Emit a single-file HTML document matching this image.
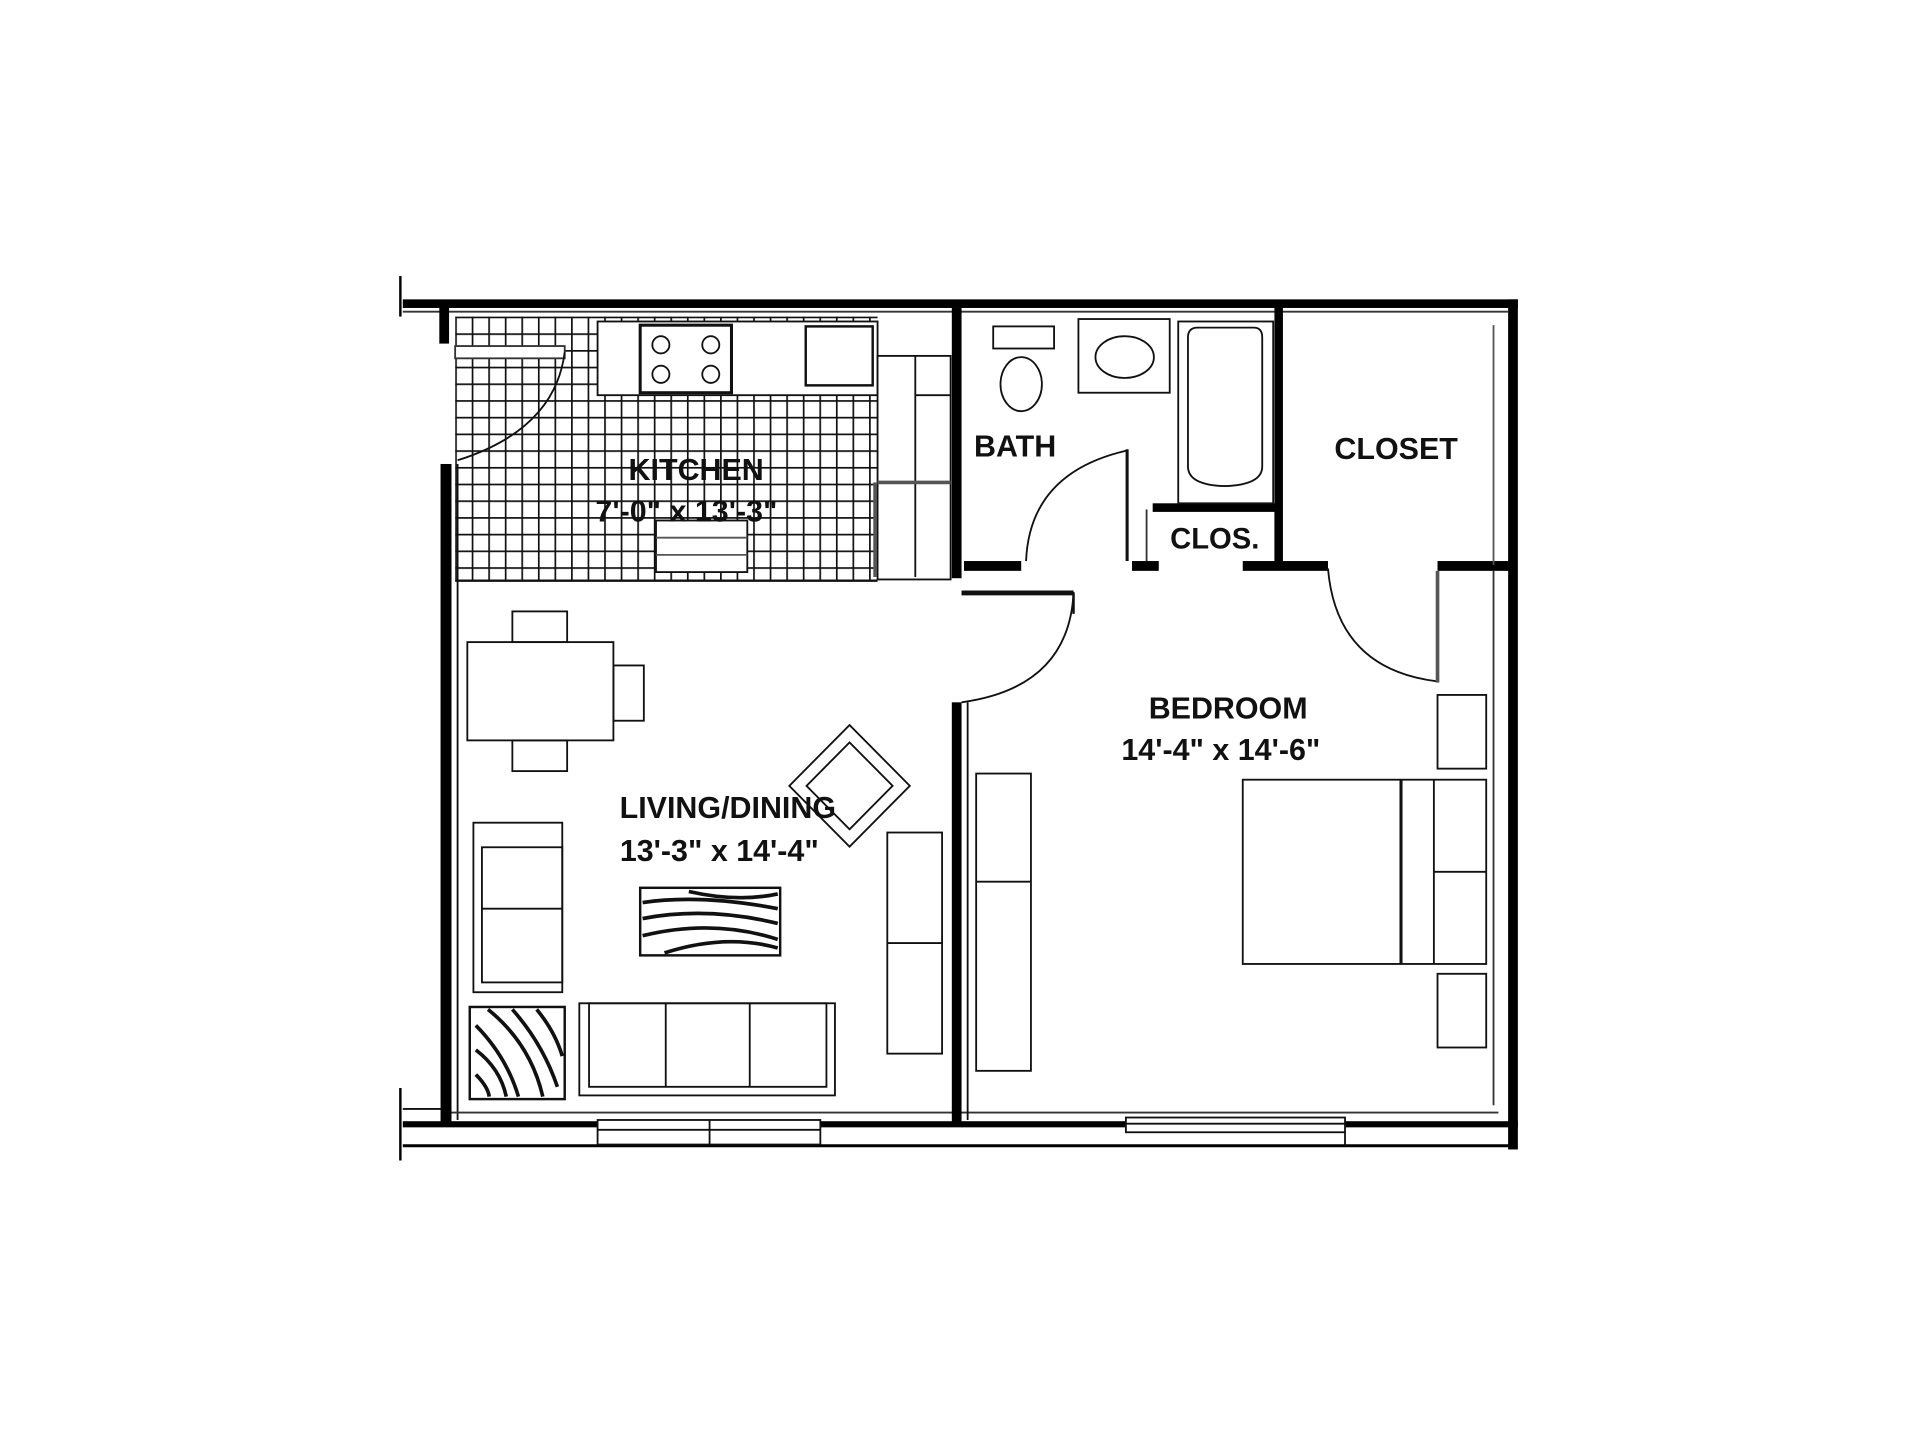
<!DOCTYPE html>
<html><head><meta charset="utf-8"><style>html,body{margin:0;padding:0;background:#fff}svg{display:block}</style></head>
<body>
<svg width="1920" height="1440" viewBox="0 0 1552 1164" xmlns="http://www.w3.org/2000/svg" font-family="Liberation Sans, sans-serif" font-weight="bold">
<defs>
<pattern id="g" x="368" y="258" width="13.6" height="13.6" patternUnits="userSpaceOnUse">
<path d="M0 0V13.6M0 0H13.6" stroke="#111" stroke-width="2.8" fill="none"/>
</pattern>
</defs>
<rect width="1552" height="1164" fill="#fff"/>
<g transform="matrix(0.984 0 0 0.993 5.8 -0.3)">
<!-- kitchen grid -->
<rect x="368" y="258" width="347" height="215" fill="url(#g)"/>
<line x1="368" y1="473" x2="715" y2="473" stroke="#111" stroke-width="2"/>
<!-- counters -->
<rect x="485" y="262" width="230" height="60" fill="#fff" stroke="#111" stroke-width="1.5"/>
<rect x="520" y="265" width="75" height="55" fill="#fff" stroke="#111" stroke-width="2.5"/>
<circle cx="537" cy="281" r="7" fill="none" stroke="#111" stroke-width="1.5"/>
<circle cx="578" cy="281" r="7" fill="none" stroke="#111" stroke-width="1.5"/>
<circle cx="537" cy="305" r="7" fill="none" stroke="#111" stroke-width="1.5"/>
<circle cx="578" cy="305" r="7" fill="none" stroke="#111" stroke-width="1.5"/>
<rect x="656" y="266" width="55" height="48" fill="#fff" stroke="#111" stroke-width="2"/>
<rect x="715" y="290" width="60" height="182" fill="#fff" stroke="#111" stroke-width="1.5"/>
<line x1="746" y1="290" x2="746" y2="470" stroke="#111" stroke-width="1.5"/>
<line x1="746" y1="322" x2="775" y2="322" stroke="#111" stroke-width="1.5"/>
<line x1="715" y1="393" x2="775" y2="393" stroke="#555" stroke-width="3"/>
<line x1="713" y1="393" x2="713" y2="470" stroke="#555" stroke-width="3"/>
<rect x="533" y="424" width="75" height="42" fill="#fff" stroke="#111" stroke-width="1.5"/>
<line x1="533" y1="438" x2="608" y2="438" stroke="#555" stroke-width="1.5"/>
<line x1="533" y1="452" x2="608" y2="452" stroke="#555" stroke-width="1.5"/>
<!-- kitchen door -->
<rect x="368" y="282" width="90" height="10" fill="#fff" stroke="#333" stroke-width="1.5"/>
<path d="M458 287 Q450 350 370 375" fill="none" stroke="#111" stroke-width="1.5"/>
<!-- outer walls -->
<rect x="325" y="244" width="916" height="7" fill="#000"/>
<rect x="1233" y="244" width="8" height="692" fill="#000"/>
<line x1="325" y1="254" x2="1233" y2="254" stroke="#333" stroke-width="1.5"/>
<rect x="355" y="250" width="8" height="30" fill="#000"/>
<rect x="356" y="378" width="9" height="538" fill="#000"/>
<line x1="370" y1="378" x2="370" y2="912" stroke="#111" stroke-width="1.5"/>
<line x1="323" y1="225" x2="323" y2="258" stroke="#000" stroke-width="2"/>
<line x1="323" y1="886" x2="323" y2="945" stroke="#000" stroke-width="2"/>
<line x1="325" y1="903" x2="356" y2="903" stroke="#111" stroke-width="1.5"/>
<rect x="325" y="913" width="916" height="5" fill="#000"/>
<line x1="325" y1="933" x2="1240" y2="933" stroke="#000" stroke-width="2.5"/>
<line x1="365" y1="906" x2="1225" y2="906" stroke="#333" stroke-width="1.5"/>
<!-- windows -->
<rect x="485" y="912" width="183" height="20" fill="#fff" stroke="#111" stroke-width="1.5"/>
<line x1="485" y1="920" x2="668" y2="920" stroke="#111" stroke-width="1.5"/>
<line x1="577" y1="912" x2="577" y2="932" stroke="#111" stroke-width="1.5"/>
<rect x="919" y="910" width="180" height="12" fill="#fff" stroke="#111" stroke-width="1.5"/>
<line x1="919" y1="915" x2="1099" y2="915" stroke="#111" stroke-width="1.5"/>
<line x1="1099" y1="922" x2="1099" y2="933" stroke="#111" stroke-width="1.5"/>
<!-- interior walls -->
<rect x="776" y="251" width="8" height="220" fill="#000"/>
<rect x="776" y="572" width="8" height="343" fill="#000"/>
<line x1="789" y1="572" x2="789" y2="912" stroke="#111" stroke-width="1.5"/>
<rect x="786" y="457" width="47" height="8" fill="#000"/>
<path d="M784 483 H876 Q872 560 784 572" fill="none" stroke="#111" stroke-width="1.5"/>
<line x1="784" y1="483" x2="876" y2="483" stroke="#111" stroke-width="4"/>
<line x1="876" y1="483" x2="876" y2="500" stroke="#111" stroke-width="2"/>
<!-- bath door -->
<path d="M837 457 Q840 385 920 367" fill="none" stroke="#111" stroke-width="1.5"/>
<line x1="920" y1="366" x2="920" y2="457" stroke="#111" stroke-width="2.5"/>
<rect x="924" y="457" width="22" height="8" fill="#000"/>
<line x1="936" y1="415" x2="936" y2="457" stroke="#333" stroke-width="1.5"/>
<rect x="941" y="410" width="103" height="7" fill="#000"/>
<rect x="1041" y="251" width="7" height="212" fill="#000"/>
<rect x="1015" y="457" width="70" height="8" fill="#000"/>
<rect x="1175" y="457" width="60" height="8" fill="#000"/>
<line x1="1221" y1="265" x2="1221" y2="460" stroke="#555" stroke-width="1.5"/>
<!-- bath fixtures -->
<rect x="810" y="266" width="50" height="18" fill="#fff" stroke="#111" stroke-width="1.5"/>
<ellipse cx="833" cy="313" rx="17" ry="22" fill="none" stroke="#111" stroke-width="1.5"/>
<rect x="880" y="260" width="75" height="60" fill="none" stroke="#111" stroke-width="1.5"/>
<ellipse cx="918" cy="291" rx="24" ry="17" fill="none" stroke="#111" stroke-width="1.5"/>
<rect x="962" y="262" width="78" height="148" fill="none" stroke="#111" stroke-width="1.5"/>
<path d="M970 275 Q970 267 978 267 H1024 Q1031 267 1031 275 V380 Q1031 395 1000 396 Q970 395 970 380 Z" fill="none" stroke="#111" stroke-width="1.5"/>
<!-- closet door -->
<path d="M1085 463 Q1092 545 1175 555" fill="none" stroke="#111" stroke-width="1.5"/>
<line x1="1175" y1="465" x2="1175" y2="556" stroke="#555" stroke-width="3"/>
<line x1="1221" y1="465" x2="1221" y2="900" stroke="#333" stroke-width="1.5"/>
<!-- bedroom furniture -->
<rect x="1175" y="566" width="40" height="60" fill="none" stroke="#111" stroke-width="1.5"/>
<rect x="1015" y="635" width="200" height="150" fill="none" stroke="#111" stroke-width="1.5"/>
<line x1="1145" y1="635" x2="1145" y2="785" stroke="#111" stroke-width="2.5"/>
<line x1="1172" y1="635" x2="1172" y2="785" stroke="#111" stroke-width="1.5"/>
<line x1="1172" y1="710" x2="1215" y2="710" stroke="#111" stroke-width="1.5"/>
<rect x="1175" y="793" width="40" height="60" fill="none" stroke="#111" stroke-width="1.5"/>
<rect x="796" y="630" width="45" height="242" fill="none" stroke="#111" stroke-width="1.5"/>
<line x1="796" y1="718" x2="841" y2="718" stroke="#111" stroke-width="1.5"/>
<!-- living furniture -->
<rect x="378" y="523" width="120" height="80" fill="none" stroke="#111" stroke-width="1.5"/>
<rect x="415" y="498" width="45" height="25" fill="none" stroke="#111" stroke-width="1.5"/>
<rect x="415" y="603" width="45" height="25" fill="none" stroke="#111" stroke-width="1.5"/>
<rect x="498" y="542" width="25" height="45" fill="none" stroke="#111" stroke-width="1.5"/>
<g transform="rotate(45 692 640)">
<rect x="657" y="605" width="70" height="70" fill="none" stroke="#111" stroke-width="1.5"/>
<rect x="667" y="615" width="50" height="50" fill="none" stroke="#111" stroke-width="1.5"/>
</g>
<rect x="383" y="670" width="73" height="138" fill="none" stroke="#111" stroke-width="1.5"/>
<rect x="390" y="690" width="66" height="110" fill="none" stroke="#111" stroke-width="1.5"/>
<line x1="390" y1="740" x2="456" y2="740" stroke="#111" stroke-width="1.5"/>
<rect x="723" y="678" width="45" height="180" fill="none" stroke="#111" stroke-width="1.5"/>
<line x1="723" y1="768" x2="768" y2="768" stroke="#111" stroke-width="1.5"/>
<rect x="470" y="817" width="210" height="75" fill="none" stroke="#111" stroke-width="1.5"/>
<rect x="478" y="817" width="195" height="68" fill="none" stroke="#111" stroke-width="1.5"/>
<line x1="541" y1="817" x2="541" y2="885" stroke="#111" stroke-width="1.5"/>
<line x1="610" y1="817" x2="610" y2="885" stroke="#111" stroke-width="1.5"/>
<rect x="520" y="723" width="115" height="55" fill="#fff" stroke="#111" stroke-width="2"/>
<path d="M522 735 Q570 728 633 740 M522 748 Q575 738 633 752 M522 762 Q580 748 633 765 M540 776 Q590 760 633 772 M560 726 Q600 735 633 728" fill="none" stroke="#111" stroke-width="3"/>
<rect x="380" y="820" width="78" height="75" fill="#fff" stroke="#111" stroke-width="2"/>
<path d="M385 835 Q410 860 420 893 M385 855 Q405 870 410 893 M395 822 Q430 850 440 893 M415 822 Q440 850 452 885 M435 822 Q450 840 456 860 M385 875 Q395 885 396 893" fill="none" stroke="#111" stroke-width="3"/>
<!-- labels -->
<g fill="#111" font-size="25" text-anchor="middle">
<text x="566" y="391">KITCHEN</text>
<text x="558" y="425">7'-0" x 13'-3"</text>
<text x="828" y="372">BATH</text>
<text x="1141" y="374">CLOSET</text>
<text x="992" y="447" font-size="24">CLOS.</text>
<text x="1003" y="585">BEDROOM</text>
<text x="997" y="619">14'-4" x 14'-6"</text>
<text x="592" y="666">LIVING/DINING</text>
<text x="585" y="701">13'-3" x 14'-4"</text>
</g>
</g>
</svg>
</body></html>
